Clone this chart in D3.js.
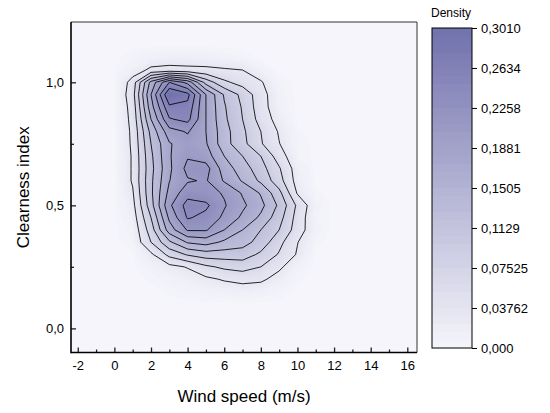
<!DOCTYPE html>
<html>
<head>
<meta charset="utf-8">
<script src="https://cdn.jsdelivr.net/npm/d3@7"></script>
<style>
body { margin: 0; background: #fff; }
text { font-family: "Liberation Sans", Arial, sans-serif; }
</style>
</head>
<body>
<svg width="550" height="413"></svg>
<script>
// grid columns: wind speed (m/s)
const windSpeed = [0, 1, 2, 3, 4, 5, 6, 7, 8, 9, 10, 11, 12];
// grid rows: clearness index, top row first
const clearness = [1.15, 1.10, 1.05, 1.00, 0.95, 0.90, 0.85, 0.80, 0.75, 0.70, 0.65,
                   0.60, 0.55, 0.50, 0.45, 0.40, 0.35, 0.30, 0.25, 0.20, 0.15, 0.10];
// density, one row per clearness value
const density = [
  [0, 0,     0,     0,     0,     0,     0,     0,     0,     0,     0,     0,     0],
  [0, 0.006, 0.012, 0.015, 0.015, 0.014, 0.010, 0.006, 0,     0,     0,     0,     0],
  [0, 0.015, 0.036, 0.039, 0.037, 0.036, 0.033, 0.030, 0.012, 0,     0,     0,     0],
  [0, 0.042, 0.160, 0.240, 0.200, 0.108, 0.066, 0.048, 0.033, 0.006, 0,     0,     0],
  [0, 0.048, 0.180, 0.300, 0.279, 0.180, 0.117, 0.081, 0.042, 0.009, 0,     0,     0],
  [0, 0.042, 0.168, 0.264, 0.261, 0.180, 0.123, 0.087, 0.042, 0.012, 0,     0,     0],
  [0, 0.039, 0.150, 0.237, 0.249, 0.180, 0.126, 0.090, 0.048, 0.018, 0,     0,     0],
  [0, 0.036, 0.129, 0.198, 0.213, 0.180, 0.132, 0.096, 0.060, 0.027, 0.003, 0,     0],
  [0, 0.035, 0.120, 0.177, 0.198, 0.183, 0.132, 0.099, 0.063, 0.031, 0.006, 0,     0],
  [0, 0.033, 0.114, 0.177, 0.207, 0.195, 0.150, 0.120, 0.090, 0.045, 0.006, 0,     0],
  [0, 0.033, 0.111, 0.174, 0.219, 0.222, 0.165, 0.135, 0.102, 0.063, 0.015, 0,     0],
  [0, 0.033, 0.114, 0.179, 0.207, 0.213, 0.177, 0.147, 0.114, 0.072, 0.018, 0,     0],
  [0, 0.027, 0.114, 0.189, 0.228, 0.222, 0.207, 0.177, 0.147, 0.099, 0.027, 0.003, 0],
  [0, 0.021, 0.108, 0.204, 0.252, 0.246, 0.213, 0.186, 0.159, 0.114, 0.054, 0.009, 0],
  [0, 0.015, 0.090, 0.186, 0.243, 0.231, 0.204, 0.174, 0.144, 0.102, 0.048, 0.006, 0],
  [0, 0.009, 0.075, 0.165, 0.213, 0.213, 0.180, 0.150, 0.120, 0.090, 0.045, 0.009, 0],
  [0, 0.006, 0.060, 0.114, 0.153, 0.162, 0.144, 0.132, 0.108, 0.069, 0.031, 0.003, 0],
  [0, 0,     0.024, 0.069, 0.093, 0.105, 0.105, 0.105, 0.084, 0.057, 0.027, 0,     0],
  [0, 0,     0.009, 0.021, 0.032, 0.054, 0.066, 0.072, 0.060, 0.036, 0.009, 0,     0],
  [0, 0,     0.003, 0.009, 0.015, 0.024, 0.033, 0.039, 0.036, 0.018, 0.003, 0,     0],
  [0, 0,     0,     0.003, 0.006, 0.009, 0.012, 0.015, 0.012, 0.006, 0,     0,     0],
  [0, 0,     0,     0,     0,     0,     0,     0,     0,     0,     0,     0,     0]
];
// contour lines drawn in black
const contourLevels = [0.03, 0.06, 0.09, 0.12, 0.15, 0.18, 0.21, 0.24, 0.27];

const xTicks = [-2, 0, 2, 4, 6, 8, 10, 12, 14, 16];
const xTickLabels = ["-2", "0", "2", "4", "6", "8", "10", "12", "14", "16"];
const xMinorTicks = [-1, 1, 3, 5, 7, 9, 11, 13, 15];
const yTicks = [0, 0.5, 1.0];
const yTickLabels = ["0,0", "0,5", "1,0"];
const yMinorTicks = [0.25, 0.75];
const densityTicks = [0, 0.03762, 0.07525, 0.1129, 0.1505, 0.1881, 0.2258, 0.2634, 0.3010];
const densityLabels = ["0,000", "0,03762", "0,07525", "0,1129", "0,1505", "0,1881", "0,2258", "0,2634", "0,3010"];
const densityMax = 0.3010;

const svg = d3.select("svg");
const plot = { left: 71, right: 417, top: 22, bottom: 352.5 };

const x = d3.scaleLinear().domain([-2.37, 16.53]).range([plot.left, plot.right]);
const y = d3.scaleLinear().domain([-0.098, 1.245]).range([plot.bottom, plot.top]);
const color = d3.scaleLinear().domain([0, densityMax]).range(["#f5f5fb", "#7171ad"]);

// clip for the density map
svg.append("defs").append("clipPath").attr("id", "clip")
  .append("rect")
  .attr("x", plot.left).attr("y", plot.top)
  .attr("width", plot.right - plot.left).attr("height", plot.bottom - plot.top);

const nx = windSpeed.length, ny = clearness.length;
const values = density.flat();
const dxStep = windSpeed[1] - windSpeed[0];
const dyStep = clearness[1] - clearness[0];

// grid coords -> screen
const toScreen = d3.geoTransform({
  point: function(gx, gy) {
    this.stream.point(
      x(windSpeed[0] + (gx - 0.5) * dxStep),
      y(clearness[0] + (gy - 0.5) * dyStep)
    );
  }
});
const path = d3.geoPath(toScreen);

const map = svg.append("g").attr("clip-path", "url(#clip)");

map.append("rect")
  .attr("x", plot.left).attr("y", plot.top)
  .attr("width", plot.right - plot.left).attr("height", plot.bottom - plot.top)
  .attr("fill", color(0));

// smooth-looking fill: many thin bands
const fillStep = 0.004;
const fillLevels = d3.range(0.002, densityMax, fillStep);
const contours = d3.contours().size([nx, ny]);

map.selectAll("path.band")
  .data(contours.thresholds(fillLevels)(values))
  .join("path")
  .attr("class", "band")
  .attr("d", path)
  .attr("fill", d => color(Math.min(densityMax, d.value + fillStep / 2)))
  .attr("stroke", d => color(Math.min(densityMax, d.value + fillStep / 2)))
  .attr("stroke-width", 0.5);

map.selectAll("path.line")
  .data(contours.thresholds(contourLevels)(values))
  .join("path")
  .attr("class", "line")
  .attr("d", path)
  .attr("fill", "none")
  .attr("stroke", "#000")
  .attr("stroke-width", 0.85);

// axes
const xAxis = svg.append("g")
  .attr("transform", `translate(0,${plot.bottom})`)
  .call(d3.axisBottom(x).tickValues(xTicks).tickSizeInner(-5).tickSizeOuter(0).tickPadding(8)
    .tickFormat((d, i) => xTickLabels[i]));
xAxis.select(".domain").remove();
xAxis.selectAll("text").attr("font-size", 13).attr("fill", "#000").attr("font-family", "Liberation Sans, Arial, sans-serif");
xAxis.selectAll("line").attr("stroke", "#222").attr("stroke-width", 1.3);

svg.append("g")
  .attr("transform", `translate(0,${plot.bottom})`)
  .call(d3.axisBottom(x).tickValues(xMinorTicks).tickSizeInner(-3).tickSizeOuter(0).tickFormat(""))
  .call(g => g.select(".domain").remove())
  .selectAll("line").attr("stroke", "#222").attr("stroke-width", 1.3);

const yAxis = svg.append("g")
  .attr("transform", `translate(${plot.left},0)`)
  .call(d3.axisLeft(y).tickValues(yTicks).tickSizeInner(-5).tickSizeOuter(0).tickPadding(7)
    .tickFormat((d, i) => yTickLabels[i]));
yAxis.select(".domain").remove();
yAxis.selectAll("text").attr("font-size", 13).attr("fill", "#000").attr("font-family", "Liberation Sans, Arial, sans-serif");
yAxis.selectAll("line").attr("stroke", "#222").attr("stroke-width", 1.3);

svg.append("g")
  .attr("transform", `translate(${plot.left},0)`)
  .call(d3.axisLeft(y).tickValues(yMinorTicks).tickSizeInner(-3).tickSizeOuter(0).tickFormat(""))
  .call(g => g.select(".domain").remove())
  .selectAll("line").attr("stroke", "#222").attr("stroke-width", 1.3);

// frame: thin top/right, heavier left/bottom
svg.append("line").attr("x1", plot.left).attr("x2", plot.right).attr("y1", plot.top).attr("y2", plot.top)
  .attr("stroke", "#333").attr("stroke-width", 1);
svg.append("line").attr("x1", plot.right).attr("x2", plot.right).attr("y1", plot.top).attr("y2", plot.bottom)
  .attr("stroke", "#333").attr("stroke-width", 1);
svg.append("line").attr("x1", plot.left).attr("x2", plot.left).attr("y1", plot.top).attr("y2", plot.bottom + 0.8)
  .attr("stroke", "#000").attr("stroke-width", 1.6);
svg.append("line").attr("x1", plot.left).attr("x2", plot.right).attr("y1", plot.bottom).attr("y2", plot.bottom)
  .attr("stroke", "#000").attr("stroke-width", 1.6);

// axis titles
svg.append("text")
  .attr("x", (plot.left + plot.right) / 2).attr("y", 402)
  .attr("text-anchor", "middle").attr("font-size", 17)
  .text("Wind speed (m/s)");

svg.append("text")
  .attr("transform", `translate(29,${(plot.top + plot.bottom) / 2}) rotate(-90)`)
  .attr("text-anchor", "middle").attr("font-size", 17)
  .text("Clearness index");

// colour bar
const cb = { left: 432, right: 472, top: 28, bottom: 348 };
const cy = d3.scaleLinear().domain([0, densityMax]).range([cb.bottom, cb.top]);
const cbSteps = d3.range(0, densityMax, densityMax / 40);

svg.append("g").selectAll("rect")
  .data(cbSteps)
  .join("rect")
  .attr("x", cb.left)
  .attr("width", cb.right - cb.left)
  .attr("y", d => cy(d + densityMax / 40))
  .attr("height", d => cy(d) - cy(d + densityMax / 40) + 0.5)
  .attr("fill", d => color(d + densityMax / 80));

svg.append("rect")
  .attr("x", cb.left).attr("y", cb.top)
  .attr("width", cb.right - cb.left).attr("height", cb.bottom - cb.top)
  .attr("fill", "none").attr("stroke", "#000").attr("stroke-width", 1);

const cbAxis = svg.append("g")
  .attr("transform", `translate(${cb.right},0)`)
  .call(d3.axisRight(cy).tickValues(densityTicks).tickSizeInner(5).tickSizeOuter(0).tickPadding(4)
    .tickFormat((d, i) => densityLabels[i]));
cbAxis.select(".domain").remove();
cbAxis.selectAll("text").attr("font-size", 13).attr("fill", "#000").attr("font-family", "Liberation Sans, Arial, sans-serif");
cbAxis.selectAll("line").attr("stroke", "#000");

svg.append("text")
  .attr("x", 431).attr("y", 17)
  .attr("font-size", 12)
  .text("Density");
</script>
</body>
</html>
